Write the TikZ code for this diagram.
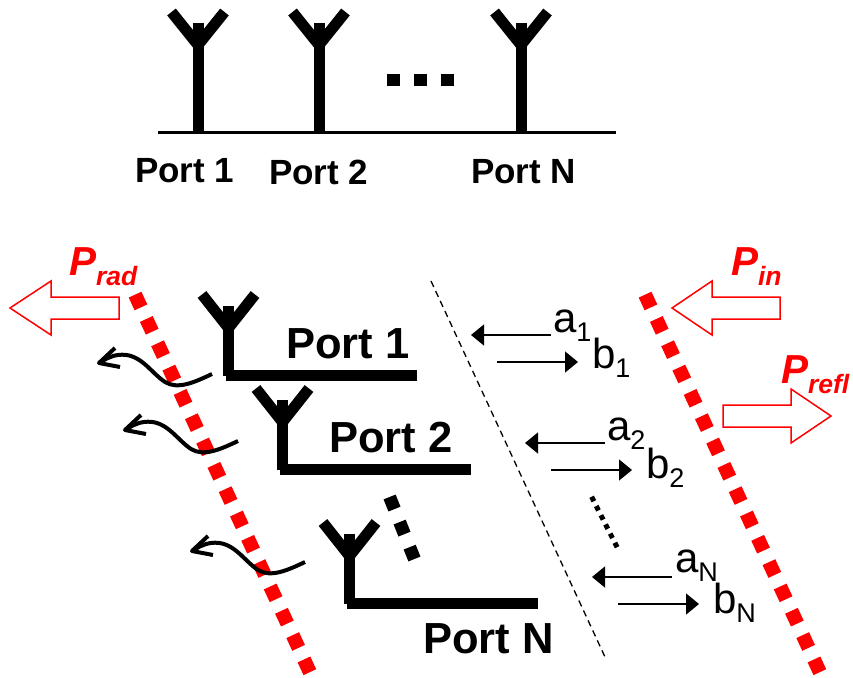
\documentclass[tikz,border=0pt]{standalone}
\usepackage{fontspec}
\setmainfont{Liberation Sans}
\usetikzlibrary{arrows.meta}
\newcommand{\fs}[1]{\fontsize{#1}{#1}\selectfont}
\newcommand{\Wsub}[2]{#1\raisebox{-9pt}{\fs{27}#2}}
\newcommand{\Psub}[1]{\textbf{\textit{P\raisebox{-10pt}{\fs{26.5}#1}}}}
\tikzset{
  txt/.style={inner sep=0pt,outer sep=0pt,anchor=base west},
  toplabel/.style={txt,font=\fs{35}\bfseries},
  portlabel/.style={txt,font=\fs{43.5}\bfseries},
  wave/.style={txt,font=\fs{42}},
  power/.style={txt,font=\fs{40.5},text=red},
  antline/.style={line width=11pt,line cap=butt,black},
  hollow/.style={draw=red,fill=white,line width=1.5pt,line join=miter},
  reddots/.style={draw=red,line width=14pt,dash pattern=on 14pt off 12.8pt},
  blackdots/.style={draw=black,line width=13pt,dash pattern=on 13pt off 14pt},
  sig/.style={draw=black,line width=1.5pt,-{Triangle[length=13pt,width=21pt]}},
  wavy/.style={draw=black,line width=4pt,line join=round},
  pics/ant/.style={code={
    \draw[antline] (0,-18) -- (0,52);
    \draw[antline] (-26.5,-29.5) -- (0,4) -- (26.5,-29.5);
  }},
  pics/radwave/.style={code={
    \draw[wavy] (212,374) .. controls (195,382) and (178,390) .. (165,382)
       .. controls (150,372) and (140,352) .. (118,355)
       .. controls (110,356) and (104,360) .. (99,363);
    \draw[wavy] (115,348) -- (99,363) -- (120,367);
  }}
}
\begin{document}
\begin{tikzpicture}[x=1pt,y=-1pt]
\useasboundingbox (0,0) rectangle (853,677);
% top row
\coordinate (baseL) at (158,132.5);
\coordinate (baseR) at (616,132.5);
\draw[line width=2.2pt] (baseL) -- (baseR);
\foreach \x in {198,319,521}{
  \draw[antline] (\x,23) -- (\x,132);
  \draw[antline] (\x-26.5,12) -- (\x,45) -- (\x+26.5,12);
}
\foreach \x in {387,414,441}{\fill (\x,73.5) rectangle ++(12.5,12.5);}
\node[toplabel] (t1) at (135,182) {Port 1};
\node[toplabel] (t2) at (269,184) {Port 2};
\node[toplabel] (t3) at (471,183.5) {Port N};
% lower antennas
\pic at (228.5,324) {ant};
\draw[antline] (226,375.5) -- (417,375.5);
\pic at (282.5,418) {ant};
\draw[antline] (280,469.5) -- (471,469.5);
\pic at (349.5,552) {ant};
\draw[antline] (347,603.5) -- (538,603.5);
\node[portlabel] (p1) at (286,358) {Port 1};
\node[portlabel] (p2) at (329,452) {Port 2};
\node[portlabel] (pn) at (423,653) {Port N};
% red dotted planes
\coordinate (l1) at (135.06,294.65);
\coordinate (l2) at (309.94,672.35);
\coordinate (r1) at (645.06,294.65);
\coordinate (r2) at (819.94,672.35);
\draw[reddots] (l1) -- (l2);
\draw[reddots] (r1) -- (r2);
% radiated waves
\pic at (0,0) {radwave};
\pic at (26,67) {radwave};
\pic at (93,188) {radwave};
% black dots by port N
\coordinate (d1) at (389.6,497);
\coordinate (d2) at (414.4,559);
\draw[blackdots] (d1) -- (d2);
% dashed divider
\coordinate (m1) at (431,281);
\coordinate (m2) at (605,657);
\draw[line width=1.3pt,dash pattern=on 6.5pt off 4.5pt] (m1) -- (m2);
% small dots
\coordinate (s1) at (591.6,496.8);
\coordinate (s2) at (617.1,547.2);
\draw[line width=5pt,dash pattern=on 5pt off 5.3pt] (s1) -- (s2);
% signals
\coordinate (a1s) at (551,335); \coordinate (a1e) at (471,335);
\coordinate (b1s) at (497,362); \coordinate (b1e) at (578,362);
\coordinate (a2s) at (605,443); \coordinate (a2e) at (525,443);
\coordinate (b2s) at (551,470); \coordinate (b2e) at (632,470);
\coordinate (a3s) at (672,577); \coordinate (a3e) at (592,577);
\coordinate (b3s) at (618,604); \coordinate (b3e) at (699,604);
\foreach \s/\e in {a1s/a1e,b1s/b1e,a2s/a2e,b2s/b2e,a3s/a3e,b3s/b3e}{\draw[sig] (\s) -- (\e);}
\node[wave] (la1) at (553,332) {\Wsub{a}{1}};
\node[wave] (lb1) at (592,368) {\Wsub{b}{1}};
\node[wave] (la2) at (607,440) {\Wsub{a}{2}};
\node[wave] (lb2) at (646,478) {\Wsub{b}{2}};
\node[wave] (la3) at (675,572) {\Wsub{a}{N}};
\node[wave] (lb3) at (713,613) {\Wsub{b}{N}};
% power arrows
\draw[hollow] (10,308) -- (51,281) -- (51,297) -- (119,297) -- (119,319) -- (51,319) -- (51,335) -- cycle;
\draw[hollow] (672,308) -- (712,281) -- (712,297) -- (780,297) -- (780,319) -- (712,319) -- (712,335) -- cycle;
\draw[hollow] (831,416) -- (791,389) -- (791,405) -- (723,405) -- (723,427) -- (791,427) -- (791,443) -- cycle;
\node[power] (prad) at (69,275) {\Psub{rad}};
\node[power] (pin) at (731,275) {\Psub{in}};
\node[power] (prefl) at (781,383) {\Psub{refl}};
\end{tikzpicture}
\end{document}
